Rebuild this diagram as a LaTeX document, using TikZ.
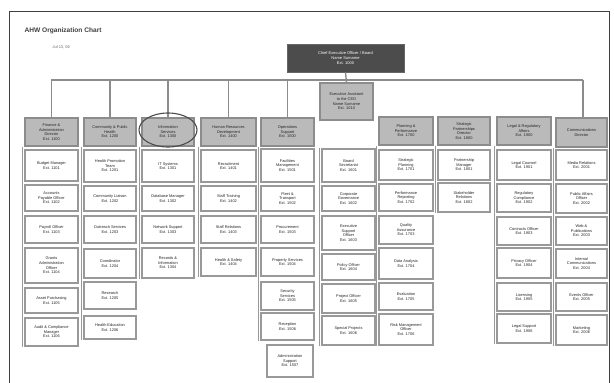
\documentclass[tikz,border=0pt]{standalone}
\usepackage{fontspec}
\setmainfont{Liberation Sans}
\usetikzlibrary{calc}
\tikzset{
  base/.style={rectangle, inner sep=0pt, align=center, font=\fontsize{3.9}{4.6}\selectfont, text=black!85},
  sub/.style={base, draw=black!40, line width=1.3pt, fill=white},
  head/.style={base, draw=black!45, line width=1.3pt, fill=black!27},
  topbox/.style={base, draw=black!60, line width=1pt, fill=black!70, text=white, font=\fontsize{4}{4.8}\selectfont},
  bus/.style={draw=black!45, line width=1.4pt},
  spine/.style={draw=black!40, line width=1.6pt},
  frame/.style={draw=black!75, line width=1pt},
}
\newcommand\bx[7][sub]{\node[#1, minimum width={#4-#3}, minimum height={#6-#5}] (#2) at ({(#3+#4)/2},{(#5+#6)/2}) {#7};}
\begin{document}
\begin{tikzpicture}[x=1pt,y=-1pt]
\useasboundingbox (0,0) rectangle (614,383);
\draw[frame] (9,400) -- (9,11) -- (609,11) -- (609,400);
\node[anchor=west, font=\fontsize{6.6}{7}\selectfont\bfseries, text=black!75] (title) at (21,31) {AHW Organization Chart};
\node[anchor=west, font=\fontsize{4}{5}\selectfont, text=black!60] (date) at (49,47) {Jul 13, 06};
% top
\bx[topbox]{top}{287}{404}{44}{72}{Chief Executive Officer / Board\\ Name Surname\\ Ext. 1000}
\coordinate (busL) at (51,80);
\coordinate (busR) at (583,80);
% headers
\bx[head]{h1}{25}{78}{118}{146}{Finance \&\\ Administration\\ Director\\ Ext. 1100}
\bx[head]{h2}{84}{136}{118}{146}{Community \& Public\\ Health\\ Ext. 1200}
\bx[head]{h3}{142}{194}{118}{146}{Information\\ Services\\ Ext. 1300}
\bx[head]{h4}{201}{256}{118}{146}{Human Resources\\ Development\\ Ext. 1400}
\bx[head]{h5}{261}{314}{118}{146}{Operations\\ Support\\ Ext. 1500}
\bx[head]{as}{320}{373}{83}{120}{Executive Assistant\\ to the CEO\\ Name Surname\\ Ext. 1010}
\bx[head]{h7}{379}{433}{117}{145}{Planning \&\\ Performance\\ Ext. 1700}
\bx[head]{h8}{438}{490}{117}{145}{Strategic\\ Partnerships\\ Director\\ Ext. 1800}
\bx[head]{h9}{497}{551}{117}{145}{Legal \& Regulatory\\ Affairs\\ Ext. 1900}
\bx[head]{h10}{556}{607}{118}{147}{Communications\\ Director}
% connectors
\draw[bus] (busL) -- (busR);
\draw[bus] (top.south) -- (as.north);
\foreach \h in {h1,h2,h3,h4,h5} \draw[bus] (\h.north) -- (\h.north |- busL);
\draw[bus] (busR) -- (busR |- h10.north);
\draw[black!70, line width=1.1pt] (168,130) ellipse [x radius=29, y radius=17];
% column 1
\bx{a1}{25}{78}{150}{181}{Budget Manager\\ Ext. 1101}
\bx{a2}{25}{78}{185}{211}{Accounts\\ Payable Officer\\ Ext. 1102}
\bx{a3}{25}{78}{216}{243}{Payroll Officer\\ Ext. 1103}
\bx{a4}{25}{78}{248}{283}{Grants\\ Administration\\ Officer\\ Ext. 1104}
\bx{a5}{25}{78}{288}{313}{Asset Purchasing\\ Ext. 1105}
\bx{a6}{25}{78}{318}{346}{Audit \& Compliance\\ Manager\\ Ext. 1106}
% column 2
\bx{b1}{84}{136}{150}{182}{Health Promotion\\ Team\\ Ext. 1201}
\bx{b2}{84}{136}{186}{211}{Community Liaison\\ Ext. 1202}
\bx{b3}{84}{136}{216}{243}{Outreach Services\\ Ext. 1203}
\bx{b4}{84}{136}{249}{278}{Coordinator\\ Ext. 1204}
\bx{b5}{84}{136}{282}{309}{Research\\ Ext. 1205}
\bx{b6}{84}{136}{316}{339}{Health Education\\ Ext. 1206}
% column 3
\bx{c1}{142}{194}{150}{182}{IT Systems\\ Ext. 1301}
\bx{c2}{142}{194}{186}{211}{Database Manager\\ Ext. 1302}
\bx{c3}{142}{194}{216}{243}{Network Support\\ Ext. 1303}
\bx{c4}{142}{194}{248}{278}{Records \&\\ Information\\ Ext. 1304}
% column 4
\bx{d1}{201}{256}{150}{182}{Recruitment\\ Ext. 1401}
\bx{d2}{201}{256}{186}{211}{Staff Training\\ Ext. 1402}
\bx{d3}{201}{256}{216}{243}{Staff Relations\\ Ext. 1403}
\bx{d4}{201}{256}{248}{276}{Health \& Safety\\ Ext. 1404}
% column 5
\bx{e1}{261}{314}{149}{182}{Facilities\\ Management\\ Ext. 1501}
\bx{e2}{261}{314}{186}{211}{Fleet \&\\ Transport\\ Ext. 1502}
\bx{e3}{261}{314}{216}{243}{Procurement\\ Ext. 1503}
\bx{e4}{261}{314}{248}{276}{Property Services\\ Ext. 1504}
\bx{e5}{261}{314}{282}{310}{Security\\ Services\\ Ext. 1505}
\bx{e6}{261}{314}{313}{340}{Reception\\ Ext. 1506}
\bx{e7}{267}{313}{345}{377}{Administration\\ Support\\ Ext. 1507}
% column 6
\bx{f1}{322}{375}{149}{182}{Board\\ Secretariat\\ Ext. 1601}
\bx{f2}{322}{375}{186}{211}{Corporate\\ Governance\\ Ext. 1602}
\bx{f3}{322}{375}{216}{250}{Executive\\ Support\\ Officer\\ Ext. 1603}
\bx{f4}{322}{375}{254}{280}{Policy Officer\\ Ext. 1604}
\bx{f5}{322}{375}{284}{313}{Project Officer\\ Ext. 1605}
\bx{f6}{322}{375}{316}{345}{Special Projects\\ Ext. 1606}
% column 7
\bx{g1}{379}{433}{150}{180}{Strategic\\ Planning\\ Ext. 1701}
\bx{g2}{379}{433}{184}{211}{Performance\\ Reporting\\ Ext. 1702}
\bx{g3}{379}{433}{216}{244}{Quality\\ Assurance\\ Ext. 1703}
\bx{g4}{379}{433}{248}{279}{Data Analysis\\ Ext. 1704}
\bx{g5}{379}{433}{283}{310}{Evaluation\\ Ext. 1705}
\bx{g6}{379}{433}{314}{345}{Risk Management\\ Officer\\ Ext. 1706}
% column 8
\bx{k1}{438}{490}{150}{180}{Partnership\\ Manager\\ Ext. 1801}
\bx{k2}{438}{490}{183}{212}{Stakeholder\\ Relations\\ Ext. 1802}
% column 9
\bx{m1}{497}{551}{150}{180}{Legal Counsel\\ Ext. 1901}
\bx{m2}{497}{551}{184}{212}{Regulatory\\ Compliance\\ Ext. 1902}
\bx{m3}{497}{551}{217}{245}{Contracts Officer\\ Ext. 1903}
\bx{m4}{497}{551}{248}{278}{Privacy Officer\\ Ext. 1904}
\bx{m5}{497}{551}{283}{311}{Licensing\\ Ext. 1905}
\bx{m6}{497}{551}{314}{343}{Legal Support\\ Ext. 1906}
% column 10
\bx{n1}{556}{607}{150}{180}{Media Relations\\ Ext. 2001}
\bx{n2}{556}{607}{184}{213}{Public Affairs\\ Officer\\ Ext. 2002}
\bx{n3}{556}{607}{217}{245}{Web \&\\ Publications\\ Ext. 2003}
\bx{n4}{556}{607}{249}{278}{Internal\\ Communications\\ Ext. 2004}
\bx{n5}{556}{607}{283}{311}{Events Officer\\ Ext. 2005}
\bx{n6}{556}{607}{315}{345}{Marketing\\ Ext. 2006}
% spines
\foreach \h/\l in {h1/a6,h2/b6,h3/c4,h4/d4,h5/e6,h7/g6,h8/k2,h9/m6,h10/n6}
  \draw[spine] ($(\h.south west)+(-2,0)$) -- ($(\l.south west)+(-2,0)$);
\draw[spine] ($(f1.north west)+(-2,0)$) -- ($(f6.south west)+(-2,0)$);
\end{tikzpicture}
\end{document}
